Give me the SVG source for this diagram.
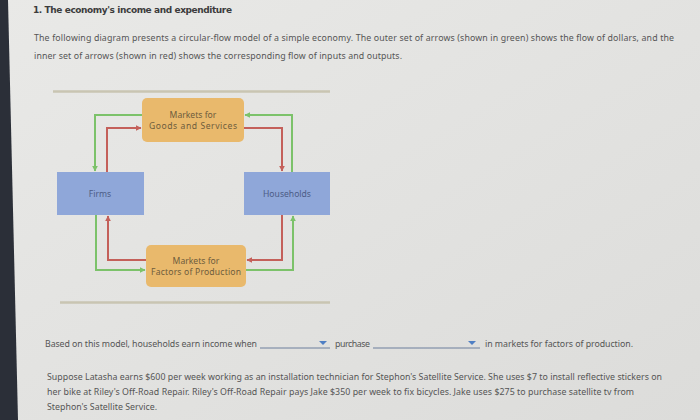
<svg xmlns="http://www.w3.org/2000/svg" width="700" height="420" viewBox="0 0 700 420">
<defs>
<linearGradient id="bg" x1="0" y1="0" x2="1" y2="1">
<stop offset="0" stop-color="#e9e9e7"/>
<stop offset="1" stop-color="#dcdcda"/>
</linearGradient>
<marker id="ag" viewBox="0 0 10 10" refX="9" refY="5" markerWidth="6" markerHeight="6" markerUnits="userSpaceOnUse" orient="auto"><path d="M0,0 L10,5 L0,10 z" fill="#7cc26a"/></marker>
<marker id="ar" viewBox="0 0 10 10" refX="9" refY="5" markerWidth="6" markerHeight="6" markerUnits="userSpaceOnUse" orient="auto"><path d="M0,0 L10,5 L0,10 z" fill="#c4605a"/></marker>
<style>
.t{font-family:"Noto Sans","DejaVu Sans",sans-serif;fill:#555;font-size:8.8px}
.b{font-family:"DejaVu Sans",sans-serif;font-weight:bold;fill:#3c3c3c;font-size:9px}
.n{font-family:"Noto Sans","DejaVu Sans",sans-serif;font-size:8.6px;text-anchor:middle}
.blue{fill:#8fa7d9}
.org{fill:#e9b96c}
.g{fill:none;stroke:#7cc26a;stroke-width:2;marker-end:url(#ag)}
.r{fill:none;stroke:#c4605a;stroke-width:2;marker-end:url(#ar)}
.sep{stroke:#c9c5b2;stroke-width:2.5}
.dd{stroke:#6d7f9c;stroke-width:1}
</style>
</defs>
<rect width="700" height="420" fill="url(#bg)"/>
<polygon points="0,0 8,0 18,420 0,420" fill="#2b2f38"/>
<text class="b" x="33" y="13" textLength="199">1. The economy's income and expenditure</text>
<text class="t" x="34" y="41" textLength="640">The following diagram presents a circular-flow model of a simple economy. The outer set of arrows (shown in green) shows the flow of dollars, and the</text>
<text class="t" x="34" y="59" textLength="368">inner set of arrows (shown in red) shows the corresponding flow of inputs and outputs.</text>
<line class="sep" x1="53" y1="91.5" x2="330" y2="91.5"/>
<line class="sep" x1="60" y1="302.5" x2="330" y2="302.5"/>
<g id="connectors">
<path class="g" d="M142,115 H95 V171"/>
<path class="g" d="M292,172 V115 H245"/>
<path class="g" d="M96,215 V270 H145"/>
<path class="g" d="M246,270 H293 V216"/>
<path class="r" d="M107,172 V128 H141"/>
<path class="r" d="M244,128 H282 V171"/>
<path class="r" d="M282,215 V260 H247"/>
<path class="r" d="M146,260 H108 V216"/>
</g>
<g id="goods">
<rect class="org" x="142" y="98" width="102" height="44" rx="5"/>
<text class="n" x="193" y="118" fill="#6e5c3c">Markets for</text>
<text class="n" x="193" y="128.5" fill="#6e5c3c" textLength="88">Goods and Services</text>
</g>
<g id="firms">
<rect class="blue" x="57" y="172" width="87" height="43"/>
<text class="n" x="100" y="197" fill="#4c5c86">Firms</text>
</g>
<g id="households">
<rect class="blue" x="244" y="172" width="86" height="43"/>
<text class="n" x="287" y="197" fill="#4c5c86">Households</text>
</g>
<g id="factors">
<rect class="org" x="146" y="245" width="100" height="42" rx="5"/>
<text class="n" x="196" y="264" fill="#6e5c3c">Markets for</text>
<text class="n" x="196" y="275" fill="#6e5c3c" textLength="90">Factors of Production</text>
</g>
<text class="t" x="45" y="347" textLength="212">Based on this model, households earn income when</text>
<line class="dd" x1="260" y1="348" x2="330" y2="348"/>
<path d="M319,341 L327,341 L323,345 z" fill="#4f7fc4"/>
<text class="t" x="335" y="347" textLength="35">purchase</text>
<line class="dd" x1="373" y1="348" x2="480" y2="348"/>
<path d="M468,341 L476,341 L472,345 z" fill="#4f7fc4"/>
<text class="t" x="485" y="347" textLength="148">in markets for factors of production.</text>
<text class="t" x="47" y="380" textLength="615">Suppose Latasha earns $600 per week working as an installation technician for Stephon's Satellite Service. She uses $7 to install reflective stickers on</text>
<text class="t" x="47" y="395" textLength="587">her bike at Riley's Off-Road Repair. Riley's Off-Road Repair pays Jake $350 per week to fix bicycles. Jake uses $275 to purchase satellite tv from</text>
<text class="t" x="47" y="410" textLength="110">Stephon's Satellite Service.</text>
</svg>
